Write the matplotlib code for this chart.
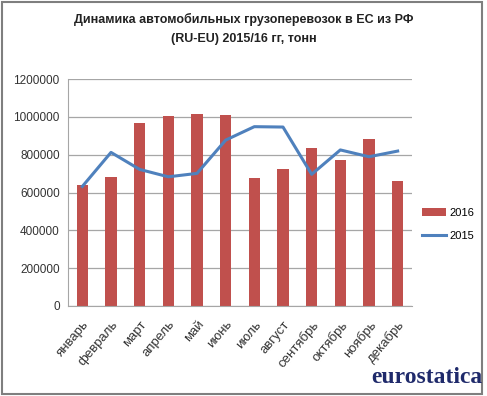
import numpy as np
import matplotlib.pyplot as plt
from matplotlib.patches import Rectangle

months = ['январь', 'февраль', 'март', 'апрель', 'май', 'июнь',
          'июль', 'август', 'сентябрь', 'октябрь', 'ноябрь', 'декабрь']
vals_2016 = [640000, 683000, 969000, 1003000, 1015000, 1008000,
             675000, 726000, 834000, 772000, 881000, 661000]
vals_2015 = [632000, 812000, 722000, 683000, 701000, 877000,
             948000, 946000, 696000, 825000, 789000, 819000]
yticks = [0, 200000, 400000, 600000, 800000, 1000000, 1200000]

plt.rcParams['font.family'] = ['Liberation Sans', 'DejaVu Sans']

fig = plt.figure(figsize=(4.87, 3.96), dpi=100)
ax = fig.add_axes([68 / 487, 1 - 306 / 396, 344 / 487, 227 / 396])

x = np.arange(len(months))
bars = ax.bar(x, vals_2016, width=0.4, color='#C0504D', label='2016', zorder=2)
line, = ax.plot(x, vals_2015, color='#4F81BD', lw=2.2, label='2015', zorder=3)

ax.set_xlim(-0.5, len(months) - 0.5)
ax.set_ylim(0, 1200000)
ax.set_yticks(yticks)
ax.set_yticklabels([str(v) for v in yticks], fontsize=8.5, color='#333333')
ax.set_xticks(x)
ax.set_xticklabels(months, rotation=50, ha='right', rotation_mode='anchor',
                   fontsize=9.5, color='#333333')
ax.tick_params(axis='y', length=0, pad=6)
ax.tick_params(axis='x', length=0, pad=9)
ax.yaxis.grid(True, color='#A6A6A6', lw=0.9, zorder=0)
for s in ['top', 'right']:
    ax.spines[s].set_visible(False)
ax.spines['left'].set_color('#A6A6A6')
ax.spines['bottom'].set_color('#A6A6A6')

ax.legend([bars, line], ['2016', '2015'], loc='center left', bbox_to_anchor=(1.0, 0.36),
          frameon=False, fontsize=8, handlelength=2.2, labelspacing=1.2, handletextpad=0.3)

fig.text(0.5, 1 - 29 / 396, 'Динамика автомобильных грузоперевозок в ЕС из РФ\n(RU-EU) 2015/16 гг, тонн',
         ha='center', va='center', fontsize=9, fontweight='bold', linespacing=1.7,
         color='#222222')

fig.text(0.99, 0.02, 'eurostatica', ha='right', va='bottom', fontsize=17,
         color='#1F2A6B', family=['Liberation Serif', 'DejaVu Serif'], fontweight='bold')

fig.patches.append(Rectangle((0.004, 0.006), 0.986, 0.99, transform=fig.transFigure,
                             fill=False, ec='#7F7F7F', lw=1.5))

fig.savefig('out.png', dpi=100)
